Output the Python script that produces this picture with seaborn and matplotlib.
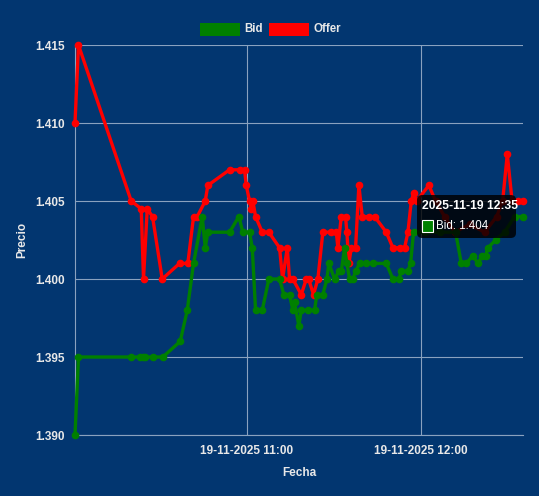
import pandas as pd
import matplotlib
matplotlib.use("Agg")
import matplotlib.pyplot as plt
import matplotlib.dates as mdates
from matplotlib.patches import FancyBboxPatch, Rectangle
import seaborn as sns

# datos (19-11-2025)
dia = "2025-11-19"

bid_times = ["10:01:00", "10:02:12", "10:20:05", "10:23:11", "10:24:19", "10:25:14",
             "10:27:45", "10:31:11", "10:37:10", "10:39:35", "10:41:45", "10:44:44",
             "10:45:46", "10:46:40", "10:54:07", "10:57:19", "10:58:42", "11:01:00",
             "11:01:56", "11:03:04", "11:05:22", "11:07:38", "11:11:19", "11:12:47",
             "11:14:45", "11:15:53", "11:16:28", "11:17:57", "11:18:47", "11:21:03",
             "11:23:21", "11:24:08", "11:26:12", "11:27:35", "11:28:16", "11:30:14",
             "11:31:42", "11:32:32", "11:33:40", "11:34:27", "11:35:23", "11:36:31",
             "11:37:27", "11:38:49", "11:41:07", "11:43:24", "11:48:00", "11:50:16",
             "11:52:20", "11:53:10", "11:55:26", "11:56:21", "11:57:23", "12:01:10",
             "12:06:20", "12:11:50", "12:13:47", "12:15:30", "12:17:46", "12:19:30",
             "12:21:00", "12:22:08", "12:22:56", "12:25:35", "12:28:41", "12:32:07",
             "12:35:00"]
bid_values = [1.390, 1.395, 1.395, 1.395, 1.395, 1.395,
              1.395, 1.395, 1.396, 1.398, 1.401, 1.404,
              1.402, 1.403, 1.403, 1.404, 1.403, 1.403,
              1.402, 1.398, 1.398, 1.400, 1.400, 1.399,
              1.399, 1.398, 1.3985, 1.397, 1.398, 1.398,
              1.398, 1.399, 1.399, 1.400, 1.401, 1.400,
              1.4005, 1.4005, 1.402, 1.401, 1.400, 1.400,
              1.4005, 1.401, 1.401, 1.401, 1.401, 1.400,
              1.400, 1.4005, 1.4005, 1.401, 1.403, 1.403,
              1.403, 1.403, 1.401, 1.401, 1.4015, 1.401,
              1.4015, 1.4015, 1.402, 1.4025, 1.403, 1.404,
              1.404]

offer_times = ["10:01:00", "10:02:12", "10:20:19", "10:23:46", "10:24:33", "10:25:50",
               "10:27:39", "10:30:59", "10:36:56", "10:39:47", "10:41:45", "10:43:01",
               "10:45:46", "10:46:40", "10:54:07", "10:57:34", "10:59:17", "10:59:52",
               "11:01:00", "11:01:35", "11:02:08", "11:03:04", "11:05:22", "11:07:38",
               "11:11:19", "11:12:21", "11:13:58", "11:14:45", "11:15:53", "11:18:47",
               "11:20:30", "11:21:17", "11:23:00", "11:24:29", "11:26:12", "11:29:05",
               "11:30:49", "11:31:22", "11:32:32", "11:34:00", "11:34:27", "11:35:10",
               "11:35:58", "11:37:27", "11:38:35", "11:39:45", "11:42:01", "11:43:59",
               "11:48:00", "11:50:16", "11:52:34", "11:54:18", "11:55:26", "11:56:36",
               "11:57:23", "11:58:25", "12:02:39", "12:04:57", "12:08:03", "12:11:29",
               "12:16:39", "12:21:48", "12:25:56", "12:28:00", "12:29:36", "12:31:15",
               "12:33:09", "12:35:00"]
offer_values = [1.410, 1.415, 1.405, 1.4045, 1.400, 1.4045,
                1.404, 1.400, 1.401, 1.401, 1.404, 1.404,
                1.405, 1.406, 1.407, 1.407, 1.407, 1.406,
                1.405, 1.4045, 1.405, 1.404, 1.403, 1.403,
                1.402, 1.400, 1.402, 1.400, 1.400, 1.399,
                1.400, 1.400, 1.399, 1.400, 1.403, 1.403,
                1.403, 1.402, 1.404, 1.404, 1.403, 1.401,
                1.402, 1.402, 1.406, 1.404, 1.404, 1.404,
                1.403, 1.402, 1.402, 1.402, 1.403, 1.405,
                1.4055, 1.405, 1.406, 1.405, 1.404, 1.403,
                1.4035, 1.403, 1.404, 1.405, 1.408, 1.405,
                1.405, 1.405]

series = ["Bid", "Offer"]
series_colors = ["#008000", "#ff0000"]
tooltip_title = "2025-11-19 12:35"
tooltip_label = "Bid: 1.404"

bg = "#023670"
grid_col = "#8aa2bf"
text_col = "#e8e8e8"

df_bid = pd.DataFrame({"Fecha": pd.to_datetime([dia + " " + t for t in bid_times]),
                       "Precio": bid_values, "Serie": "Bid"})
df_offer = pd.DataFrame({"Fecha": pd.to_datetime([dia + " " + t for t in offer_times]),
                         "Precio": offer_values, "Serie": "Offer"})
df = pd.concat([df_offer, df_bid], ignore_index=True)

sns.set_style("white")
plt.rcParams["font.family"] = ["Liberation Sans", "DejaVu Sans"]

fig = plt.figure(figsize=(5.39, 4.96), dpi=100, facecolor=bg)
ax = fig.add_axes([75 / 539, 61 / 496, 448 / 539, 390 / 496])
ax.set_facecolor(bg)

sns.lineplot(data=df, x="Fecha", y="Precio", hue="Serie",
             hue_order=["Offer", "Bid"], palette=dict(zip(series, series_colors)),
             marker="o", markersize=5.5, markeredgewidth=0, linewidth=2.4,
             legend=False, ax=ax, zorder=3)
for line in ax.lines:
    line.set_clip_on(False)

ax.set_xlim(df["Fecha"].min(), df["Fecha"].max())
ax.set_ylim(1.390, 1.415)
ax.set_yticks([1.390, 1.395, 1.400, 1.405, 1.410, 1.415])
ax.yaxis.set_major_formatter(plt.FormatStrFormatter("%.3f"))
ax.xaxis.set_major_locator(mdates.HourLocator())
ax.xaxis.set_major_formatter(mdates.DateFormatter("%d-%m-%Y %H:%M"))

ax.grid(True, color=grid_col, linewidth=0.8, zorder=0)
ax.tick_params(axis="both", colors=grid_col, length=5.5, width=0.8,
               labelcolor=text_col, labelsize=8.5, pad=2)
for lab in ax.get_xticklabels() + ax.get_yticklabels():
    lab.set_fontweight("bold")
for side in ["top", "right"]:
    ax.spines[side].set_visible(False)
for side in ["left", "bottom"]:
    ax.spines[side].set_color(grid_col)
    ax.spines[side].set_linewidth(0.8)

ax.set_xlabel("Fecha", color=text_col, fontsize=8.5, fontweight="bold")
ax.set_ylabel("Precio", color=text_col, fontsize=8.5, fontweight="bold")
ax.xaxis.set_label_coords(0.5, -0.081)
ax.yaxis.set_label_coords(-0.105, 0.5)

# leyenda arriba
leg_x = [200, 269]
for name, col, x0 in zip(series, series_colors, leg_x):
    fig.patches.append(Rectangle((x0 / 539, 1 - 36 / 496), 40 / 539, 13 / 496,
                                 transform=fig.transFigure, facecolor=col,
                                 edgecolor=col, linewidth=0))
    fig.text((x0 + 44) / 539, 1 - 29 / 496, name, color=text_col, fontsize=8.3,
             fontweight="bold", va="center", ha="left")

# tooltip
fig.patches.append(FancyBboxPatch((417 / 539, 1 - 238 / 496), 99 / 539, 43 / 496,
                                  boxstyle="round,pad=0,rounding_size=0.01",
                                  transform=fig.transFigure, facecolor="black",
                                  alpha=0.82, edgecolor="none", zorder=10))
fig.text(422 / 539, 1 - 206.5 / 496, tooltip_title, color="white", fontsize=8.7,
         fontweight="bold", va="center", ha="left", zorder=11)
fig.patches.append(Rectangle((422 / 539, 1 - 231.5 / 496), 11 / 539, 11.5 / 496,
                             transform=fig.transFigure, facecolor=series_colors[0],
                             edgecolor="white", linewidth=0.8, zorder=11))
fig.text(436 / 539, 1 - 226 / 496, tooltip_label, color="white", fontsize=8.3,
         va="center", ha="left", zorder=11)

fig.savefig("out.png", dpi=100, facecolor=bg)
